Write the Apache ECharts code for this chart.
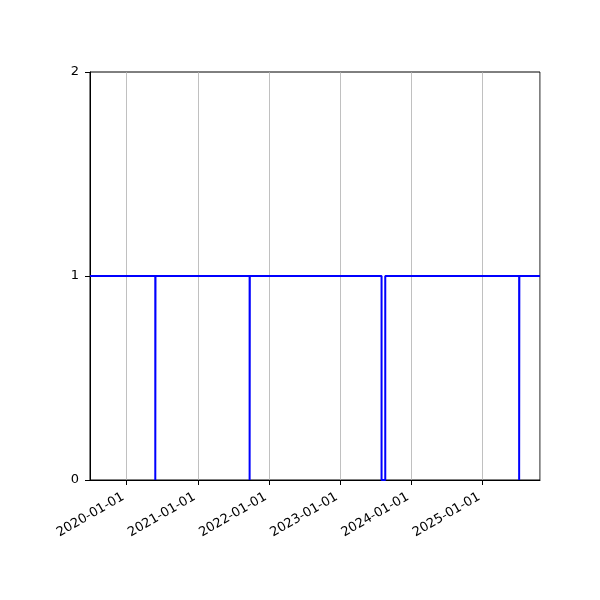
<!DOCTYPE html>
<html>
<head>
<meta charset="utf-8">
<script src="https://cdn.jsdelivr.net/npm/echarts@6/dist/echarts.min.js"></script>
<style>html,body{margin:0;padding:0;background:#fff}#c{width:600px;height:600px}</style>
</head>
<body>
<div id="c"></div>
<script>
const dates = ['2019-06-27','2020-05-27','2020-05-28','2021-09-23','2021-09-24','2023-08-01','2023-08-20','2025-07-07','2025-07-08','2025-10-22'];
const values = [1,0,1,0,1,0,1,0,1,1];
const yTicks = [0,1,2];

const ts = d => Date.parse(d + 'T00:00:00Z');
const data = dates.map((d,i)=>[ts(d), values[i]]);
const chart = echarts.init(document.getElementById('c'), null, {renderer:'canvas'});
const font = 'DejaVu Sans';
chart.setOption({
  animation:false,
  useUTC:true,
  grid:{left:90,right:60,top:72,bottom:120,show:true,borderColor:'#000',borderWidth:1,backgroundColor:'transparent'},
  xAxis:{
    type:'time',
    min:ts(dates[0]), max:ts(dates[dates.length-1]),
    minInterval:365*86400000, maxInterval:366*86400000,
    axisLine:{lineStyle:{color:'#000',width:1}},
    axisTick:{show:true,length:5,inside:false,lineStyle:{color:'#000'}},
    splitLine:{show:true,lineStyle:{color:'#b0b0b0',width:0.8}},
    axisLabel:{rotate:30,formatter:'{yyyy}-{MM}-{dd}',color:'#000',fontFamily:font,fontSize:13,margin:14,padding:[0,4,0,0],showMinLabel:false,showMaxLabel:false}
  },
  yAxis:{
    type:'value',min:0,max:2,interval:1,
    axisLine:{show:true,lineStyle:{color:'#000',width:1}},
    axisTick:{show:true,length:5,lineStyle:{color:'#000'}},
    splitLine:{show:false},
    axisLabel:{color:'#000',fontFamily:font,fontSize:13,margin:11,formatter:v=>yTicks.includes(v)?String(v):''}
  },
  series:[{
    type:'line',step:'end',data:data,showSymbol:false,
    lineStyle:{color:'#0000ff',width:2},itemStyle:{color:'#0000ff'}
  }]
});
</script>
</body>
</html>
